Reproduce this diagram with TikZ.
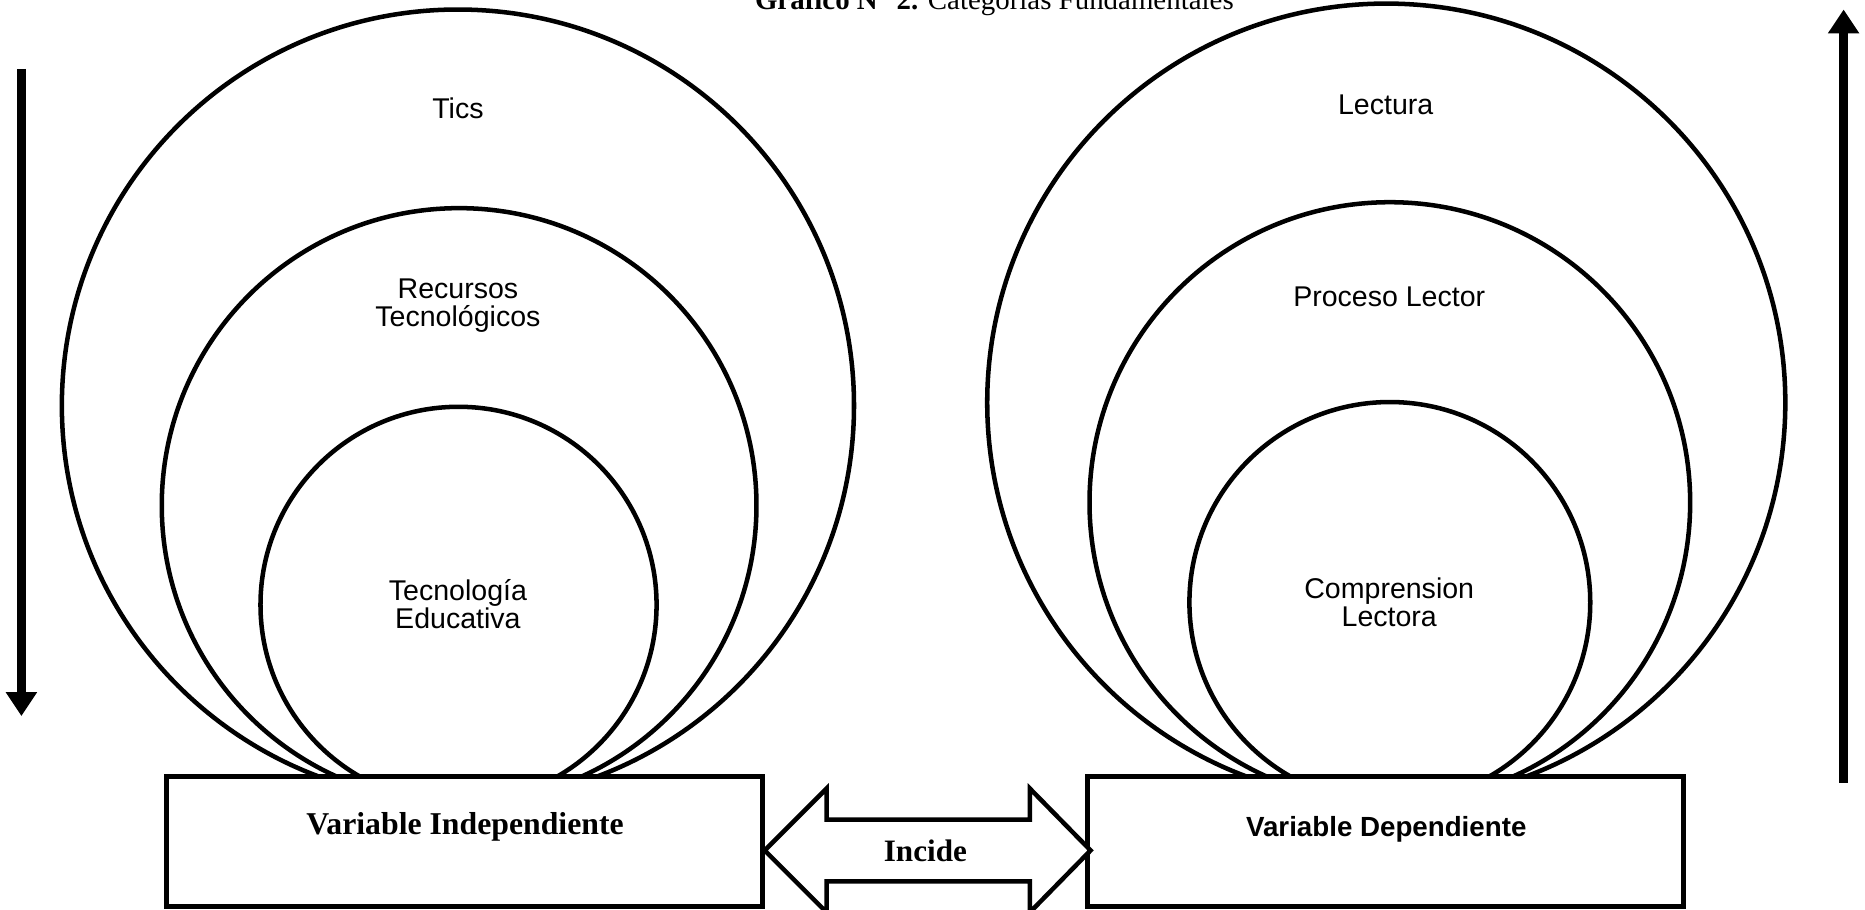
\documentclass[tikz,border=0pt]{standalone}
\usepackage{fontspec}
\setmainfont{Liberation Serif}
\newfontfamily\arialfont{Liberation Sans}
\usetikzlibrary{arrows.meta}

\begin{document}
\begin{tikzpicture}[x=1pt,y=-1pt,
    ring/.style ={circle, draw, line width=3.8pt, inner sep=0pt},
    varbox/.style ={rectangle, draw, fill=white, line width=3.8pt, minimum width=501pt, minimum height=109pt},
    sidearrow/.style ={line width=7.5pt, -{Triangle[width=25pt,length=20pt]}},
    blockarrow/.style ={draw, fill=white, line width=3.8pt, line join=miter},
    circtext/.style ={font=\arialfont\fontsize{24}{23.5}\selectfont, align=center, inner sep=0pt}]
   \useasboundingbox (0,0) rectangle (1568,765);

   \node[anchor=base, inner sep=0pt] (title) at (836,8) {\fontsize{24.3}{28}\selectfont\textbf{Gráfico N° 2.} Categorías Fundamentales};

   % left circles
   \node[ring, minimum size=666pt] (tics) at (385,341) {};
   \node[ring, minimum size=500pt] (recursos) at (386,425) {};
   \node[ring, minimum size=333pt] (tecno) at (385.5,508.5) {};
   % right circles
   \node[ring, minimum size=671pt] (lectura) at (1165.5,338.5) {};
   \node[ring, minimum size=505pt] (proceso) at (1168.5,422.5) {};
   \node[ring, minimum size=337pt] (compren) at (1168.5,506.5) {};

   \node[circtext, anchor=base] (ticslabel) at (385,100) {Tics};
   \node[circtext] (recursoslabel) at (385,257) {Recursos\\Tecnológicos};
   \node[circtext] (tecnolabel) at (385,508) {Tecnología\\Educativa};
   \node[circtext, anchor=base] (lecturalabel) at (1165,96) {Lectura};
   \node[circtext, anchor=base] (procesolabel) at (1168,258) {Proceso Lector};
   \node[circtext] (comprenlabel) at (1168,506) {Comprension\\Lectora};

   % boxes
   \node[varbox] (indep) at (390.5,707.5) {};
   \node[varbox] (dep) at (1165,707.5) {};
   \node[anchor=base, inner sep=0pt] (indeplabel) at (391,702)
        {\fontsize{26.7}{30}\selectfont\bfseries Variable Independiente};
   \node[anchor=base, inner sep=0pt] (deplabel) at (1165.5,703)
        {\arialfont\fontsize{23.3}{28}\selectfont\bfseries Variable Dependiente};

   % incide
   \coordinate (incidemid) at (778,715);
   \draw[blockarrow] (indep.east |- incidemid) -- ++(52,-52) -- ++(0,26) -- ++(171,0)
        -- ++(0,-26) -- ++(51,52) -- ++(-51,52) -- ++(0,-26) -- ++(-171,0)
        -- ++(0,26) -- cycle;
   \node[inner sep=0pt] (incide) at (incidemid) {\fontsize{26.2}{30}\selectfont\bfseries Incide};

   % side arrows
   \coordinate (downtop) at (18,58);
   \coordinate (downend) at (18,602);
   \coordinate (upbottom) at (1550,658);
   \coordinate (uptop) at (1550,8);
   \draw[sidearrow] (downtop) -- (downend);
   \draw[sidearrow] (upbottom) -- (uptop);

 \end{tikzpicture}
\end{document}
